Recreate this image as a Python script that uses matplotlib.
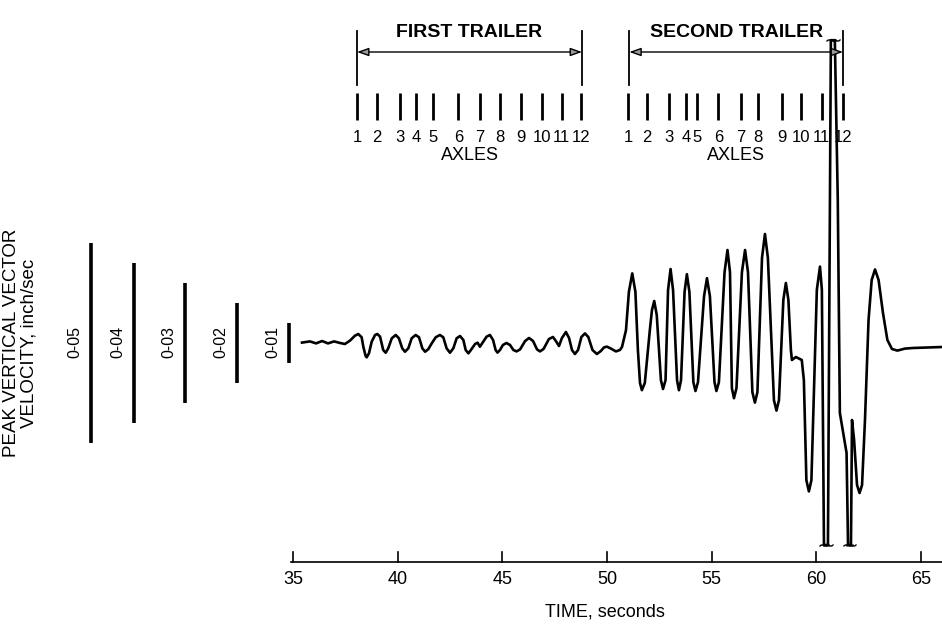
import numpy as np
import matplotlib
matplotlib.use('Agg')
import matplotlib.pyplot as plt

plt.rcParams['font.family'] = ['Liberation Sans', 'DejaVu Sans']
NARROW = ['Liberation Sans Narrow', 'Liberation Sans', 'DejaVu Sans']

# Waveform: time (s), vertical velocity (inch/sec)
time_s = [35.43, 35.81, 36.10, 36.39, 36.67, 36.96, 37.25,
          37.48, 37.72, 37.96, 38.12, 38.28, 38.36, 38.47, 38.52, 38.63, 38.76,
          38.92, 39.03, 39.16, 39.31, 39.43, 39.55, 39.72, 39.91, 40.06, 40.22,
          40.35, 40.51, 40.67, 40.86, 41.02, 41.18, 41.31, 41.46, 41.63, 41.82,
          42.02, 42.18, 42.34, 42.50, 42.66, 42.82, 42.98, 43.14, 43.25, 43.38,
          43.50, 43.70, 43.82, 43.93, 44.09, 44.25, 44.41, 44.56, 44.68, 44.77,
          44.89, 45.03, 45.20, 45.37, 45.53, 45.68, 45.85, 46.09, 46.28, 46.47,
          46.66, 46.80, 46.97, 47.23, 47.42, 47.56, 47.71, 47.85, 48.04, 48.19,
          48.33, 48.47, 48.62, 48.78, 48.95, 49.11, 49.31, 49.52, 49.71, 49.86,
          50.00, 50.19, 50.43, 50.62, 50.72,
          50.91, 51.05, 51.21, 51.36, 51.48, 51.58, 51.67, 51.81, 52.05, 52.15,
          52.26, 52.38, 52.58, 52.68, 52.80, 52.92, 53.04, 53.16, 53.35, 53.44,
          53.54, 53.71, 53.82, 53.94, 54.13, 54.23, 54.35, 54.64, 54.78, 54.92,
          55.14, 55.23, 55.35, 55.62, 55.76, 55.88, 55.97, 56.07, 56.19, 56.45,
          56.60, 56.74, 56.95, 57.07, 57.19, 57.41, 57.55, 57.69, 57.98, 58.10,
          58.22, 58.43, 58.55, 58.67, 58.79, 58.84, 59.03, 59.31, 59.41, 59.53,
          59.65, 59.77, 60.03, 60.18, 60.27,
          60.37, 60.56, 60.70, 60.89, 61.03, 61.13, 61.45, 61.52, 61.66,
          61.71, 61.81, 61.95, 62.07, 62.19, 62.33, 62.50, 62.65, 62.81, 62.98,
          63.19, 63.40, 63.62, 63.88, 64.24, 64.62, 66.01]
velocity = [0.0001, 0.0004, -0.0001, 0.0005, -0.0001, 0.0004, 0.0,
            -0.00025, 0.00058, 0.00183, 0.00225, 0.00143, -0.00093, -0.00325, -0.00358, -0.00258, 0.00033,
            0.002, 0.00225, 0.00158, -0.00175, -0.00243, -0.00133, 0.00118, 0.002, 0.00118, -0.00133,
            -0.00218, -0.00133, 0.00118, 0.002, 0.00143, -0.00133, -0.00218, -0.00158, -0.00008, 0.00143,
            0.002, 0.00143, -0.00133, -0.00243, -0.00133, 0.00118, 0.00175, 0.00075, -0.00175, -0.00258,
            -0.00175, -0.00025, 0.00008, -0.00093, 0.00033, 0.00158, 0.002, 0.00075, -0.00175, -0.0024,
            -0.00175, -0.0005, 0.0, -0.0005, -0.00175, -0.0021, -0.0016, 0.0005, 0.00125, 0.0005,
            -0.0016, -0.0021, -0.0015, 0.001, 0.0015, 0.0005, -0.00075, 0.00125, 0.00275, 0.00125,
            -0.00175, -0.00275, -0.00175, 0.0015, 0.0024, 0.0015, -0.00175, -0.00275, -0.002, -0.0011,
            -0.0009, -0.0014, -0.0021, -0.00175, -0.001,
            0.0032, 0.0128, 0.0174, 0.0128, -0.0018, -0.010, -0.0118, -0.010, 0.0032, 0.0082,
            0.0105, 0.007, -0.0093, -0.0115, -0.0093, 0.0132, 0.0185, 0.0132, -0.0093, -0.0118,
            -0.0093, 0.0128, 0.0172, 0.0128, -0.0098, -0.012, -0.0098, 0.0117, 0.0162, 0.0117,
            -0.0098, -0.012, -0.0098, 0.0177, 0.02325, 0.0177, -0.0113, -0.0138, -0.0113, 0.0177,
            0.02325, 0.0177, -0.0123, -0.0149, -0.0123, 0.0213, 0.02725, 0.0213, -0.0143, -0.0169,
            -0.0143, 0.0108, 0.015, 0.0108, -0.0018, -0.00425, -0.0035, -0.00425, -0.0093, -0.0343,
            -0.0371, -0.0343, 0.0133, 0.0191, 0.0133,
            -0.0505, -0.0505, 0.0757, 0.0757, 0.0358, -0.0175, -0.0275, -0.0505, -0.0505,
            -0.01925, -0.02425, -0.0355, -0.0375, -0.0355, -0.01925, 0.00575, 0.01575, 0.0184, 0.01575,
            0.0075, 0.00075, -0.0015, -0.0019, -0.0014, -0.00125, -0.001]
clip_lo = -0.0505
clip_hi = 0.0757

# Axle passage times
axles_first = [38.07, 39.00, 40.11, 40.88, 41.70, 42.90, 43.93, 44.89, 45.89, 46.88, 47.84, 48.75]
axles_second = [51.02, 51.90, 52.98, 53.78, 54.32, 55.32, 56.39, 57.20, 58.35, 59.27, 60.26, 61.26]
axle_labels = [str(i) for i in range(1, 13)]
trailer_names = ['FIRST TRAILER', 'SECOND TRAILER']
trailer_spans = [(38.06, 48.81), (51.07, 61.28)]

# Scale bars (inch/sec) and their positions along the time axis
scale_values = [0.05, 0.04, 0.03, 0.02, 0.01]
scale_labels = ['0-05', '0-04', '0-03', '0-02', '0-01']
scale_pos = [25.35, 27.40, 29.84, 32.32, 34.81]

time_ticks = [35, 40, 45, 50, 55, 60, 65]

fig = plt.figure(figsize=(9.42, 6.25), dpi=100)
ax = fig.add_axes([0, 0, 1, 1])
ax.set_xlim(21.0, 66.01)
ax.set_ylim(-0.0705, 0.08575)
ax.axis('off')

# waveform
ax.plot(time_s, velocity, color='k', lw=1.9, solid_joinstyle='round')
tt = np.array(time_s)
vv = np.array(velocity)
clipped = (vv == clip_lo) | (vv == clip_hi)
ax.plot(tt[clipped], vv[clipped], ls='none', marker='$\\sim$', ms=7, color='k', mew=0.2)

# time axis
y_axis = -0.05475
ax.plot([34.9, 66.01], [y_axis, y_axis], color='k', lw=1.2)
for t in time_ticks:
    ax.plot([t, t], [y_axis, y_axis + 0.0026], color='k', lw=1.2)
    ax.text(t, y_axis - 0.0045, str(t), ha='center', va='center', fontsize=13, family=NARROW)
ax.text(49.9, -0.06725, 'TIME, seconds', ha='center', va='center', fontsize=13)

# scale bars
for val, lab, pos in zip(scale_values, scale_labels, scale_pos):
    ax.plot([pos, pos], [-val / 2, val / 2], color='k', lw=2.6, solid_capstyle='butt')
    ax.text(pos - 0.75, 0.0003, lab, rotation=90, ha='center', va='center', fontsize=11.5, family=NARROW)

ax.text(21.55, 0.0, 'PEAK VERTICAL VECTOR', rotation=90, ha='center', va='center', fontsize=13.5)
ax.text(22.4, 0.0, 'VELOCITY, inch/sec', rotation=90, ha='center', va='center', fontsize=13.5)

# trailers and axles
for name, (t0, t1), axles in zip(trailer_names, trailer_spans, [axles_first, axles_second]):
    for t in (t0, t1):
        ax.plot([t, t], [0.0645, 0.0780], color='k', lw=1.3)
    ax.annotate('', xy=(t1, 0.07275), xytext=(t0, 0.07275),
                arrowprops=dict(arrowstyle='<|-|>,head_length=0.7,head_width=0.25',
                                fc='0.6', ec='k', lw=1.0, shrinkA=0, shrinkB=0))
    ax.text((t0 + t1) / 2, 0.0777, name, ha='center', va='center', fontsize=14, fontweight='bold')
    for t, lab in zip(axles, axle_labels):
        ax.plot([t, t], [0.0558, 0.0625], color='k', lw=2.0, solid_capstyle='butt')
        ax.text(t, 0.0513, lab, ha='center', va='center', fontsize=12, family=NARROW)
    ax.text((t0 + t1) / 2, 0.0470, 'AXLES', ha='center', va='center', fontsize=13)

fig.savefig('out.png', dpi=100)
